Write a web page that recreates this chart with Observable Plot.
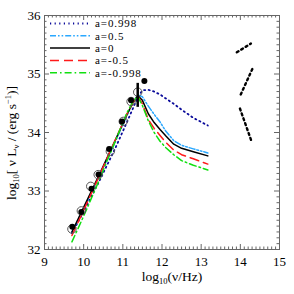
<!DOCTYPE html>
<html><head><meta charset="utf-8">
<script src="https://cdn.jsdelivr.net/npm/d3@7"></script>
<script src="https://cdn.jsdelivr.net/npm/@observablehq/plot@0.6"></script>
<style>body{margin:0;background:#fff}#c{width:294px;height:294px}</style>
</head><body><div id="c"></div>
<script>
// ---- data ----
const gridX = [9.7, 10.0, 10.4, 10.8, 11.1, 11.25, 11.38, 11.5, 11.65, 11.8, 11.95, 12.1, 12.3, 12.5, 12.8, 13.17];
const seriesNames = ["a=0.998", "a=0.5", "a=0", "a=-0.5", "a=-0.998"];
const yA0998 = [32.28, 32.65, 33.17, 33.72, 34.17, 34.40, 34.60, 34.72, 34.73, 34.70, 34.65, 34.58, 34.49, 34.39, 34.25, 34.12];
const yA05   = [32.30, 32.70, 33.25, 33.83, 34.28, 34.50, 34.64, 34.61, 34.45, 34.31, 34.18, 34.02, 33.86, 33.78, 33.72, 33.65];
const yA0    = [32.30, 32.72, 33.28, 33.86, 34.30, 34.50, 34.63, 34.55, 34.32, 34.17, 34.05, 33.94, 33.80, 33.73, 33.67, 33.60];
const yAm05  = [32.24, 32.67, 33.26, 33.86, 34.31, 34.51, 34.62, 34.49, 34.22, 34.07, 33.95, 33.83, 33.70, 33.62, 33.55, 33.46];
const yAm0998= [32.13, 32.57, 33.19, 33.84, 34.33, 34.52, 34.62, 34.46, 34.20, 34.00, 33.85, 33.74, 33.62, 33.52, 33.44, 33.36];

const filledX = [9.71, 9.94, 10.20, 10.38, 10.65, 10.98, 11.21, 11.55];
const filledY = [32.39, 32.64, 33.04, 33.28, 33.72, 34.19, 34.55, 34.88];
const openX = [9.70, 9.94, 10.18, 10.37, 10.68, 11.01, 11.21, 11.38];
const openY = [32.35, 32.66, 33.08, 33.28, 33.68, 34.19, 34.53, 34.69];
const errX = [11.38];
const errLo = [34.43];
const errHi = [34.84];

const limSeg = [1, 1, 2, 2, 3, 3];
const limX = [13.91, 14.27, 14.01, 14.31, 13.99, 14.28];
const limY = [35.37, 35.52, 34.65, 35.09, 34.41, 33.86];

const xTicks = [9, 10, 11, 12, 13, 14, 15];
const yTicks = [32, 33, 34, 35, 36];

// ---- styles ----
const styles = [
  {stroke: "#0a0a9a", dash: "1.2,3.4", w: 1.8},
  {stroke: "#2aa8ff", dash: "6,2,1.6,2,1.6,2", w: 1.5},
  {stroke: "#000000", dash: null, w: 1.5},
  {stroke: "#ff1a1a", dash: "9,5", w: 1.5},
  {stroke: "#10e010", dash: "7,3,1.6,3", w: 1.5}
];
const allY = [yA0998, yA05, yA0, yAm05, yAm0998];

const xMinor = d3.range(90, 151).map(d => d / 10).filter(d => !xTicks.includes(d));
const yMinor = d3.range(320, 361).map(d => d / 10).filter(d => !yTicks.includes(d));

const W = 294, H = 294, mL = 44, mR = 15, mT = 15, mB = 45;
const fw = W - mL - mR, fh = H - mT - mB;
const axc = "#666";

const lineMarks = allY.map((ys, i) => Plot.line(gridX.map((x, j) => ({x, y: ys[j]})), {
  x: "x", y: "y", stroke: styles[i].stroke, strokeWidth: styles[i].w,
  strokeDasharray: styles[i].dash, curve: "linear"
}));

const limData = limX.map((x, i) => ({x, y: limY[i], s: limSeg[i]}));

const chart = Plot.plot({
  width: W, height: H, marginLeft: mL, marginRight: mR, marginTop: mT, marginBottom: mB,
  x: {domain: [9, 15]}, y: {domain: [32, 36]},
  style: {fontFamily: "Liberation Serif", fontSize: "13px", background: "#fff", color: "#000"},
  marks: [
    Plot.frame({stroke: axc}),
    Plot.tickX(xMinor, {x: d => d, insetTop: fh - 2.5, stroke: axc}),
    Plot.tickX(xMinor, {x: d => d, insetBottom: fh - 2.5, stroke: axc}),
    Plot.tickX(xTicks, {x: d => d, insetTop: fh - 5, stroke: axc}),
    Plot.tickX(xTicks, {x: d => d, insetBottom: fh - 5, stroke: axc}),
    Plot.tickY(yMinor, {y: d => d, insetRight: fw - 2.5, stroke: axc}),
    Plot.tickY(yMinor, {y: d => d, insetLeft: fw - 2.5, stroke: axc}),
    Plot.tickY(yTicks, {y: d => d, insetRight: fw - 5, stroke: axc}),
    Plot.tickY(yTicks, {y: d => d, insetLeft: fw - 5, stroke: axc}),
    Plot.axisX(xTicks, {tickSize: 0, tickPadding: 7, label: null, tickFormat: d => d, fontSize: 13}),
    Plot.axisY(yTicks, {tickSize: 0, tickPadding: 4, label: null, tickFormat: d => d, fontSize: 13}),
    ...lineMarks,
    Plot.dot(openX.map((x, i) => ({x, y: openY[i]})), {x: "x", y: "y", r: 4.2, stroke: "#555", strokeWidth: 1, fill: "none"}),
    Plot.dot(filledX.map((x, i) => ({x, y: filledY[i]})), {x: "x", y: "y", r: 3, fill: "#000", stroke: "none"}),
    Plot.ruleX(errX.map((x, i) => ({x, lo: errLo[i], hi: errHi[i]})), {x: "x", y1: "lo", y2: "hi", stroke: "#000", strokeWidth: 2.5}),
    Plot.line(limData, {x: "x", y: "y", z: "s", stroke: "#000", strokeWidth: 2.4, strokeDasharray: "2,3.2"})
  ]
});

const svg = d3.select(chart);
// legend
const lg = svg.append("g").attr("font-family", "Liberation Serif").attr("font-size", 11)
  .attr("letter-spacing", 0.9).attr("text-anchor", "start");
seriesNames.forEach((name, i) => {
  const yy = 23.5 + i * 12.3;
  lg.append("line").attr("x1", 50).attr("x2", 90).attr("y1", yy).attr("y2", yy)
    .attr("stroke", styles[i].stroke).attr("stroke-width", styles[i].w)
    .attr("stroke-dasharray", styles[i].dash);
  lg.append("text").attr("x", 95).attr("y", yy).attr("dy", "0.35em").attr("fill", "#000")
    .attr("text-anchor", "start").text(name);
});

function richText(g, parts) {
  parts.forEach(p => {
    const t = g.append("tspan").text(p.t);
    if (p.sub) t.attr("font-size", 8.5).attr("dy", 3);
    else if (p.sup) t.attr("font-size", 8.5).attr("dy", -5);
    if (p.back) t.attr("dy", p.back);
  });
}
// x title
const xt = svg.append("text").attr("x", 172).attr("y", 281).attr("text-anchor", "middle")
  .attr("font-family", "Liberation Serif").attr("font-size", 13.5).attr("fill", "#000");
richText(xt, [{t: "log"}, {t: "10", sub: true}, {t: "(ν/Hz)", back: -3}]);
// y title
const yt = svg.append("text").attr("transform", "translate(16,143) rotate(-90)").attr("text-anchor", "middle")
  .attr("font-family", "Liberation Serif").attr("font-size", 13.5).attr("fill", "#000");
richText(yt, [{t: "log"}, {t: "10", sub: true}, {t: "[ ν L", back: -3}, {t: "ν", sub: true},
  {t: " / (erg s", back: -3}, {t: "−1", sup: true}, {t: ")]", back: 5}]);

document.getElementById("c").appendChild(chart);
</script></body></html>
